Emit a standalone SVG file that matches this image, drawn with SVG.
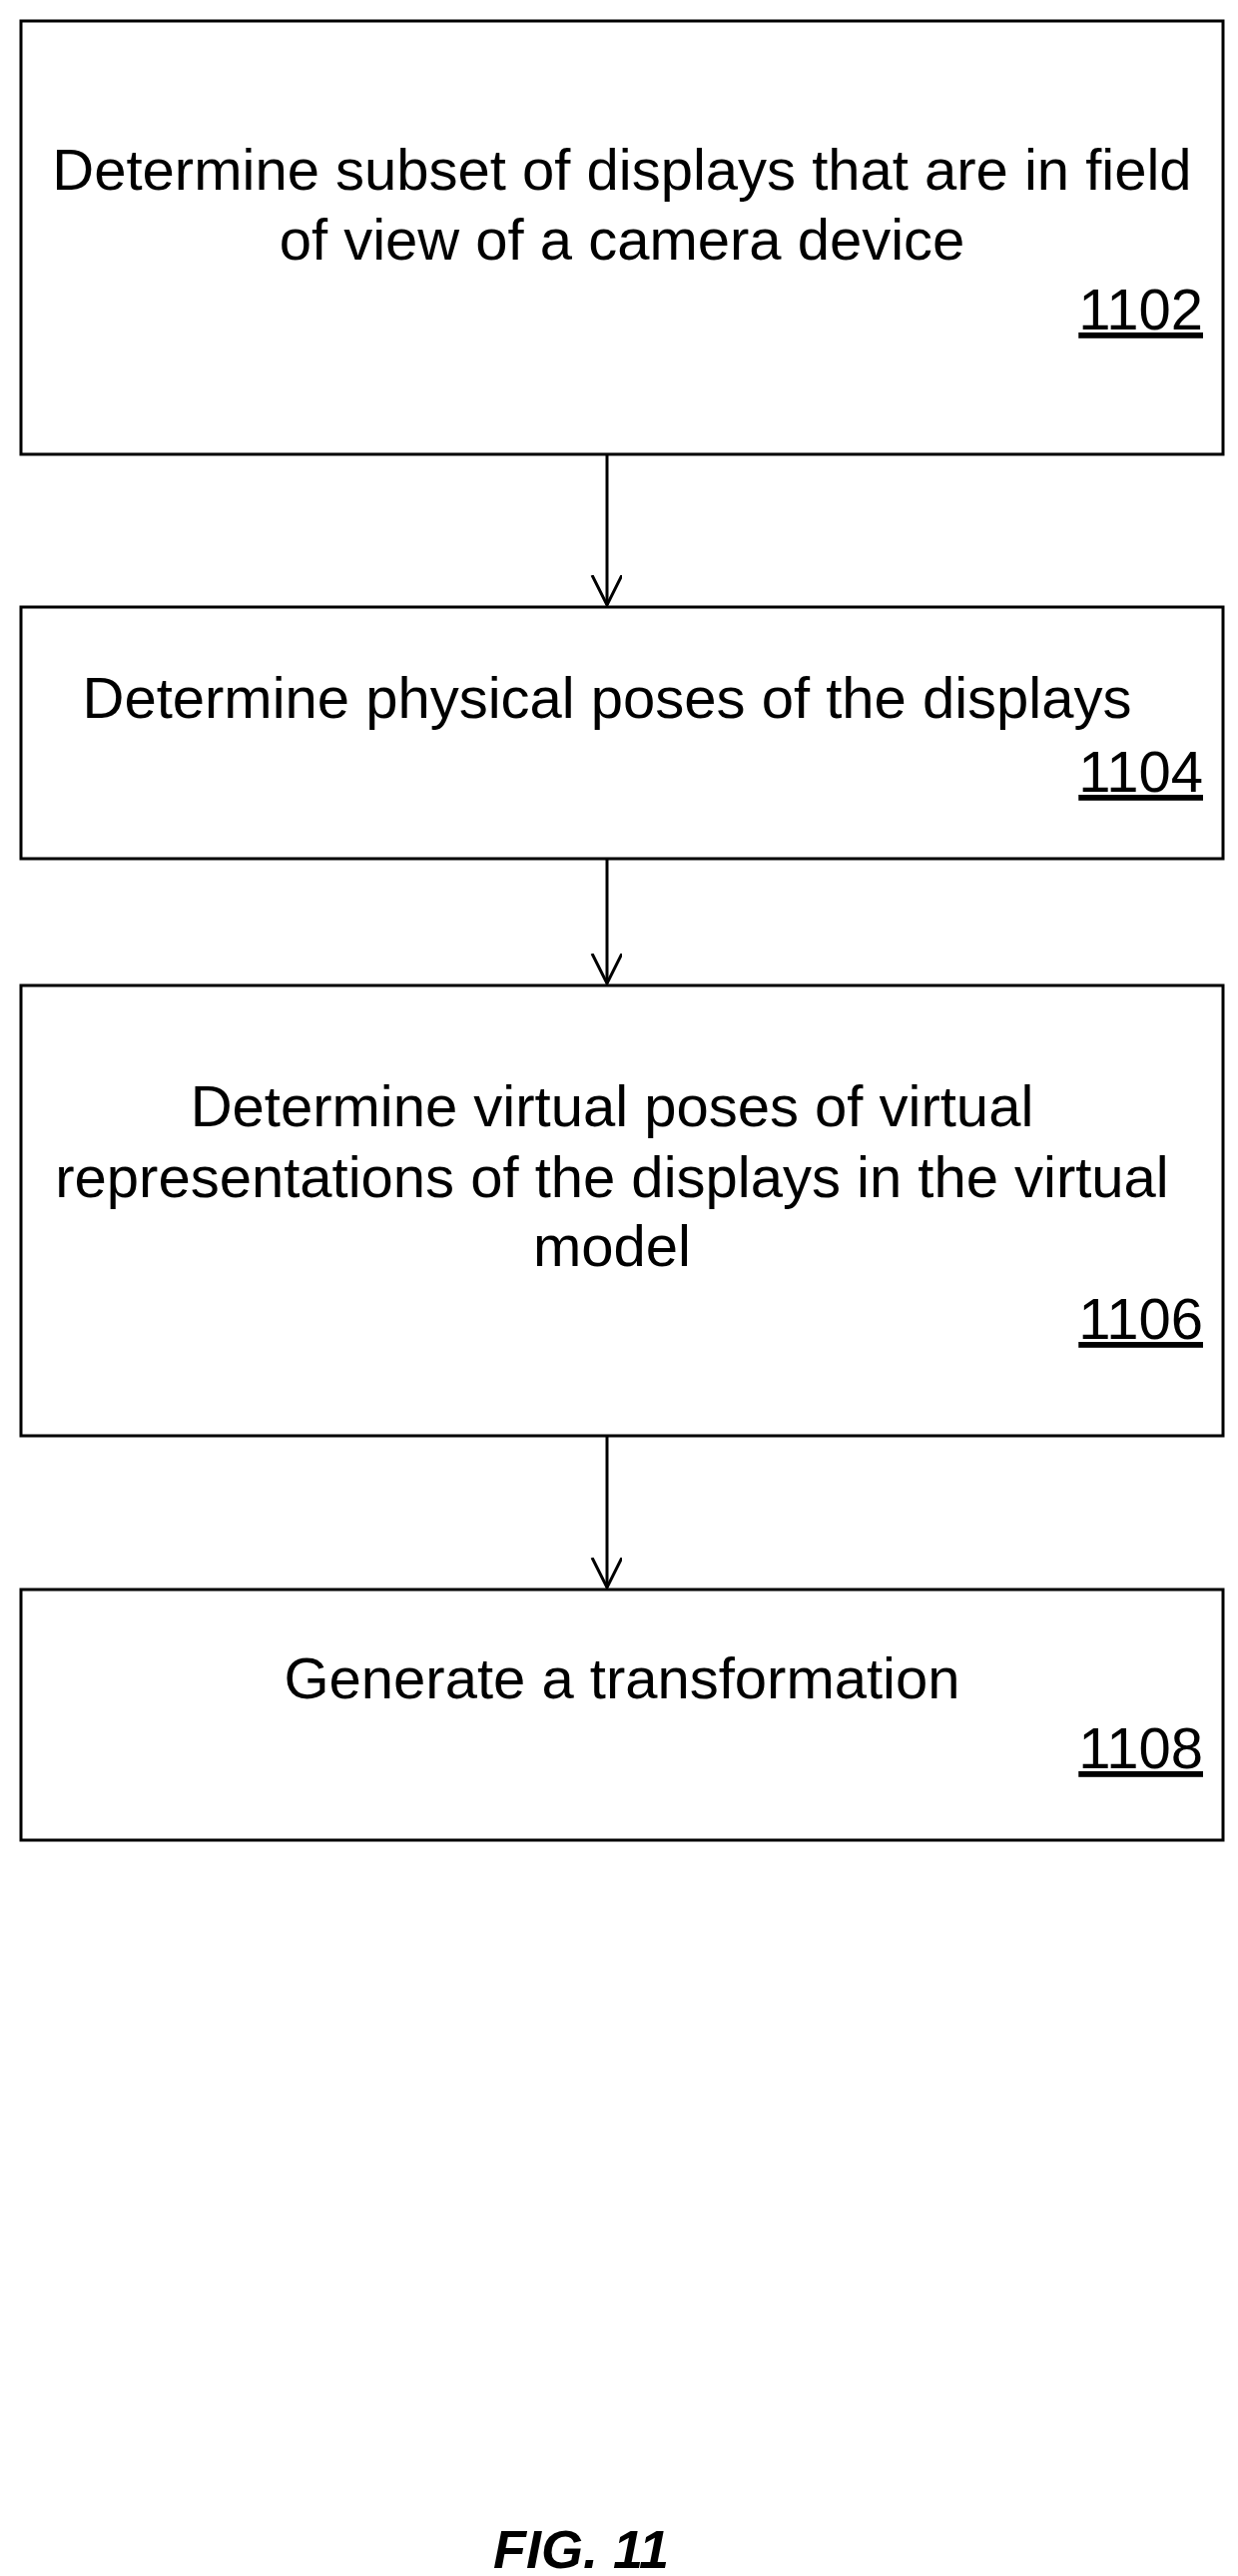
<svg xmlns="http://www.w3.org/2000/svg" width="1240" height="2580" viewBox="0 0 1240 2580">
<style>
.b{fill:#fff;stroke:#000;stroke-width:3}
.t{font-family:"Liberation Sans",Arial,sans-serif;font-size:58px;fill:#000;text-anchor:middle}
.n{font-family:"Liberation Sans",Arial,sans-serif;font-size:58px;fill:#000;text-anchor:end;text-decoration:underline}
.c{stroke:#000;stroke-width:3;fill:none}
</style>
<defs><marker id="a" markerWidth="40" markerHeight="40" refX="30" refY="15" orient="auto" markerUnits="userSpaceOnUse"><path d="M0,0 L30,15 L0,30" fill="none" stroke="#000" stroke-width="3"/></marker></defs>
<rect width="1240" height="2580" fill="#fff"/>
<g id="n1102"><rect class="b" x="21" y="21" width="1204" height="434"/>
<text class="t" x="623" y="190">Determine subset of displays that are in field</text>
<text class="t" x="623" y="260">of view of a camera device</text>
<text class="n" x="1205" y="330">1102</text></g>
<g id="n1104"><rect class="b" x="21" y="608" width="1204" height="252"/>
<text class="t" x="608" y="719">Determine physical poses of the displays</text>
<text class="n" x="1205" y="793">1104</text></g>
<g id="n1106"><rect class="b" x="21" y="987" width="1204" height="451"/>
<text class="t" x="613" y="1128">Determine virtual poses of virtual</text>
<text class="t" x="613" y="1199">representations of the displays in the virtual</text>
<text class="t" x="613" y="1268">model</text>
<text class="n" x="1205" y="1341">1106</text></g>
<g id="n1108"><rect class="b" x="21" y="1592" width="1204" height="251"/>
<text class="t" x="623" y="1701">Generate a transformation</text>
<text class="n" x="1205" y="1771">1108</text></g>
<g id="connectors">
<line class="c" x1="608" y1="455" x2="608" y2="606" marker-end="url(#a)"/>
<line class="c" x1="608" y1="860" x2="608" y2="985" marker-end="url(#a)"/>
<line class="c" x1="608" y1="1438" x2="608" y2="1590" marker-end="url(#a)"/>
</g>
<text x="582" y="2572" style="font-family:'Liberation Sans',Arial,sans-serif;font-size:54px;font-weight:bold;font-style:italic;text-anchor:middle">FIG. 11</text>
</svg>
